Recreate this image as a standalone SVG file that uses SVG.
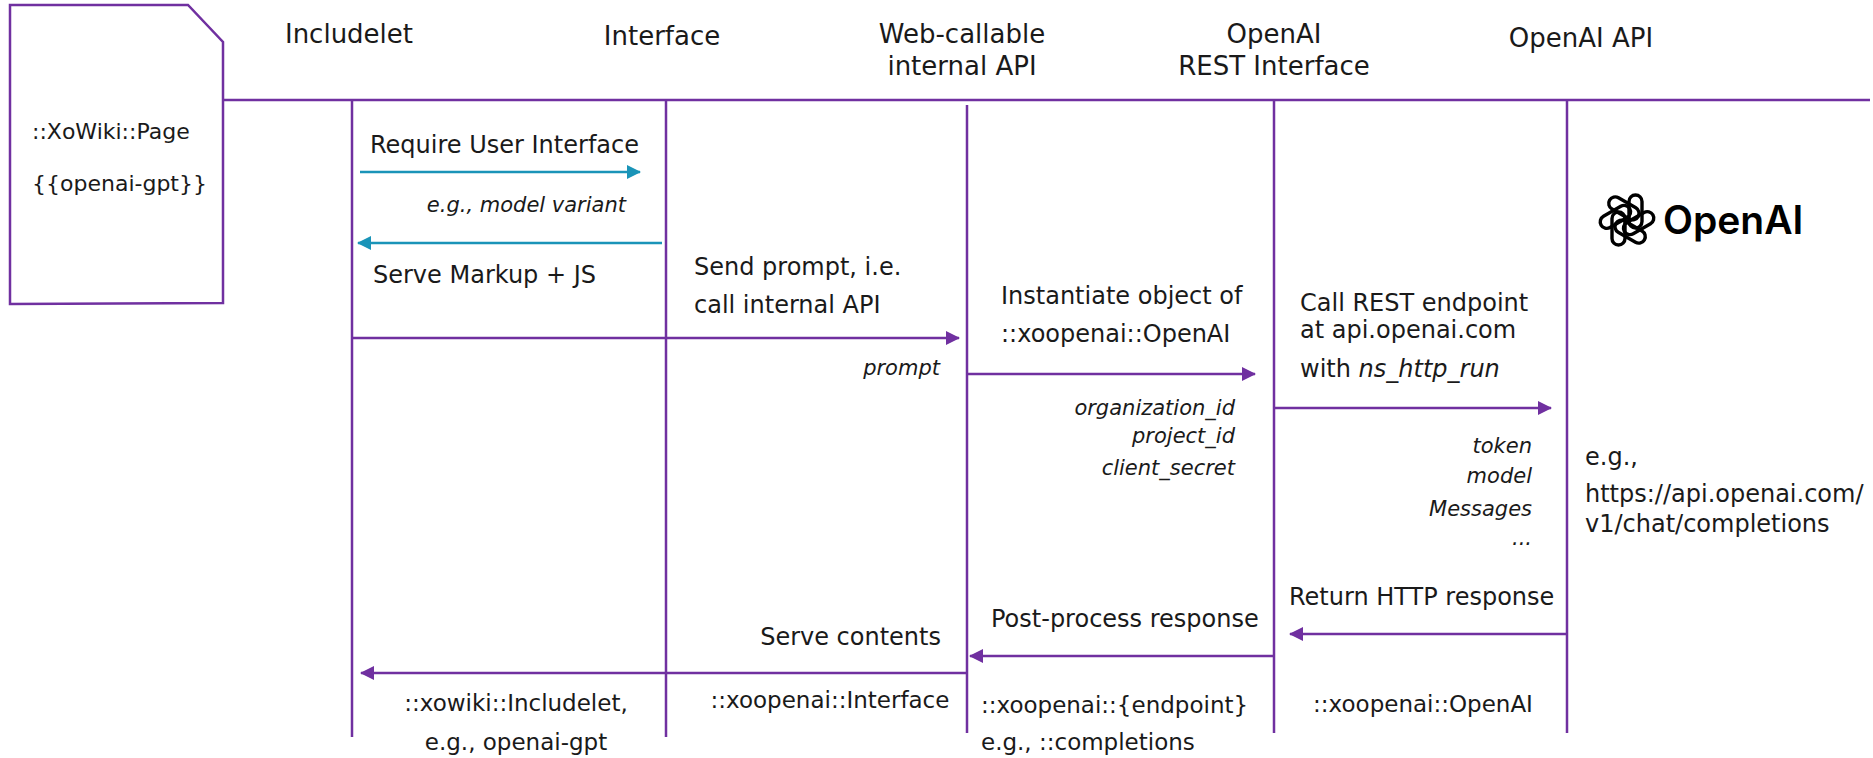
<svg xmlns="http://www.w3.org/2000/svg" width="1873" height="758" viewBox="0 0 1873 758">
<style>
.ln{stroke:#7030A0;stroke-width:2.5;fill:none}
.ar{stroke:#7030A0;stroke-width:2.5;fill:none;marker-end:url(#ap)}
.at{stroke:#1A94B8;stroke-width:2.5;fill:none;marker-end:url(#at)}
text{font-family:"DejaVu Sans","Liberation Sans",sans-serif;fill:#1a1a1a}
.h{font-size:26px;text-anchor:middle}
.b{font-size:24px}
.i{font-size:21px;font-style:italic}
.r{text-anchor:end}
.m{text-anchor:middle}
.s{font-size:23px}
.pg{font-size:22px}
.kn{fill:none;stroke:#000;stroke-width:3.4}
</style>
<defs>
<marker id="ap" viewBox="0 0 14 14" refX="13" refY="7" markerWidth="14" markerHeight="14" markerUnits="userSpaceOnUse" orient="auto"><path d="M0,0 L14,7 L0,14 Z" fill="#7030A0"/></marker>
<marker id="at" viewBox="0 0 14 14" refX="13" refY="7" markerWidth="14" markerHeight="14" markerUnits="userSpaceOnUse" orient="auto"><path d="M0,0 L14,7 L0,14 Z" fill="#1A94B8"/></marker>
<rect id="petal" class="kn" x="2" y="-25" width="13" height="33" rx="6.5"/>
</defs>

<g id="page">
<path class="ln" d="M10,5 L188,5 L223,42 L223,303 L10,304 Z"/>
<text class="pg" x="32" y="139">::XoWiki::Page</text>
<text class="pg" x="32" y="191">{{openai-gpt}}</text>
</g>

<g id="header">
<line class="ln" x1="223" y1="100" x2="1870" y2="100"/>
</g>

<g id="includelet">
<text class="h" x="349" y="43">Includelet</text>
<line class="ln" x1="352" y1="100" x2="352" y2="737"/>
</g>
<g id="interface">
<text class="h" x="662" y="45">Interface</text>
<line class="ln" x1="666" y1="100" x2="666" y2="737"/>
</g>
<g id="webapi">
<text class="h" x="962" y="43">Web-callable</text>
<text class="h" x="962" y="75">internal API</text>
<line class="ln" x1="967" y1="105" x2="967" y2="733"/>
</g>
<g id="rest">
<text class="h" x="1274" y="43">OpenAI</text>
<text class="h" x="1274" y="75">REST Interface</text>
<line class="ln" x1="1274" y1="100" x2="1274" y2="733"/>
</g>
<g id="openaiapi">
<text class="h" x="1581" y="47">OpenAI API</text>
<line class="ln" x1="1567" y1="100" x2="1567" y2="733"/>
</g>

<g id="logo">
<g transform="translate(1627,220)">
<use href="#petal" transform="rotate(0)"/>
<use href="#petal" transform="rotate(60)"/>
<use href="#petal" transform="rotate(120)"/>
<use href="#petal" transform="rotate(180)"/>
<use href="#petal" transform="rotate(240)"/>
<use href="#petal" transform="rotate(300)"/>
</g>
<text x="1663" y="234" style="font-family:Inter,'Liberation Sans',sans-serif;font-weight:600;font-size:39px;fill:#000">OpenAI</text>
</g>

<g id="connectors">
<line class="at" x1="360" y1="172" x2="640" y2="172"/>
<line class="at" x1="662" y1="243" x2="358" y2="243"/>
<line class="ar" x1="352" y1="338" x2="959" y2="338"/>
<line class="ar" x1="967" y1="374" x2="1255" y2="374"/>
<line class="ar" x1="1274" y1="408" x2="1551" y2="408"/>
<line class="ar" x1="1567" y1="634" x2="1290" y2="634"/>
<line class="ar" x1="1274" y1="656" x2="970" y2="656"/>
<line class="ar" x1="967" y1="673" x2="361" y2="673"/>
</g>

<g id="labels">
<text class="b" x="370" y="153">Require User Interface</text>
<text class="i r" x="626" y="212">e.g., model variant</text>
<text class="b" x="373" y="283">Serve Markup + JS</text>
<text class="b" x="694" y="275">Send prompt, i.e.</text>
<text class="b" x="694" y="313">call internal API</text>
<text class="i r" x="940" y="375">prompt</text>
<text class="b" x="1001" y="304">Instantiate object of</text>
<text class="b" x="1001" y="342">::xoopenai::OpenAI</text>
<text class="i r" x="1235" y="415">organization_id</text>
<text class="i r" x="1235" y="443">project_id</text>
<text class="i r" x="1235" y="475">client_secret</text>
<text class="b" x="1300" y="311">Call REST endpoint</text>
<text class="b" x="1300" y="338">at api.openai.com</text>
<text class="b" x="1300" y="377">with <tspan font-style="italic">ns_http_run</tspan></text>
<text class="i r" x="1532" y="453">token</text>
<text class="i r" x="1532" y="483">model</text>
<text class="i r" x="1532" y="516">Messages</text>
<text class="i r" x="1532" y="545">...</text>
<text class="b" x="1585" y="465">e.g.,</text>
<text class="b" x="1585" y="502">https://api.openai.com/</text>
<text class="b" x="1585" y="532">v1/chat/completions</text>
<text class="b" x="1289" y="605">Return HTTP response</text>
<text class="b" x="991" y="627">Post-process response</text>
<text class="b r" x="941" y="645">Serve contents</text>
<text class="s m" x="516" y="711">::xowiki::Includelet,</text>
<text class="s m" x="516" y="750">e.g., openai-gpt</text>
<text class="s m" x="830" y="708">::xoopenai::Interface</text>
<text class="s" x="981" y="713">::xoopenai::{endpoint}</text>
<text class="s" x="981" y="750">e.g., ::completions</text>
<text class="s m" x="1423" y="712">::xoopenai::OpenAI</text>
</g>
</svg>
